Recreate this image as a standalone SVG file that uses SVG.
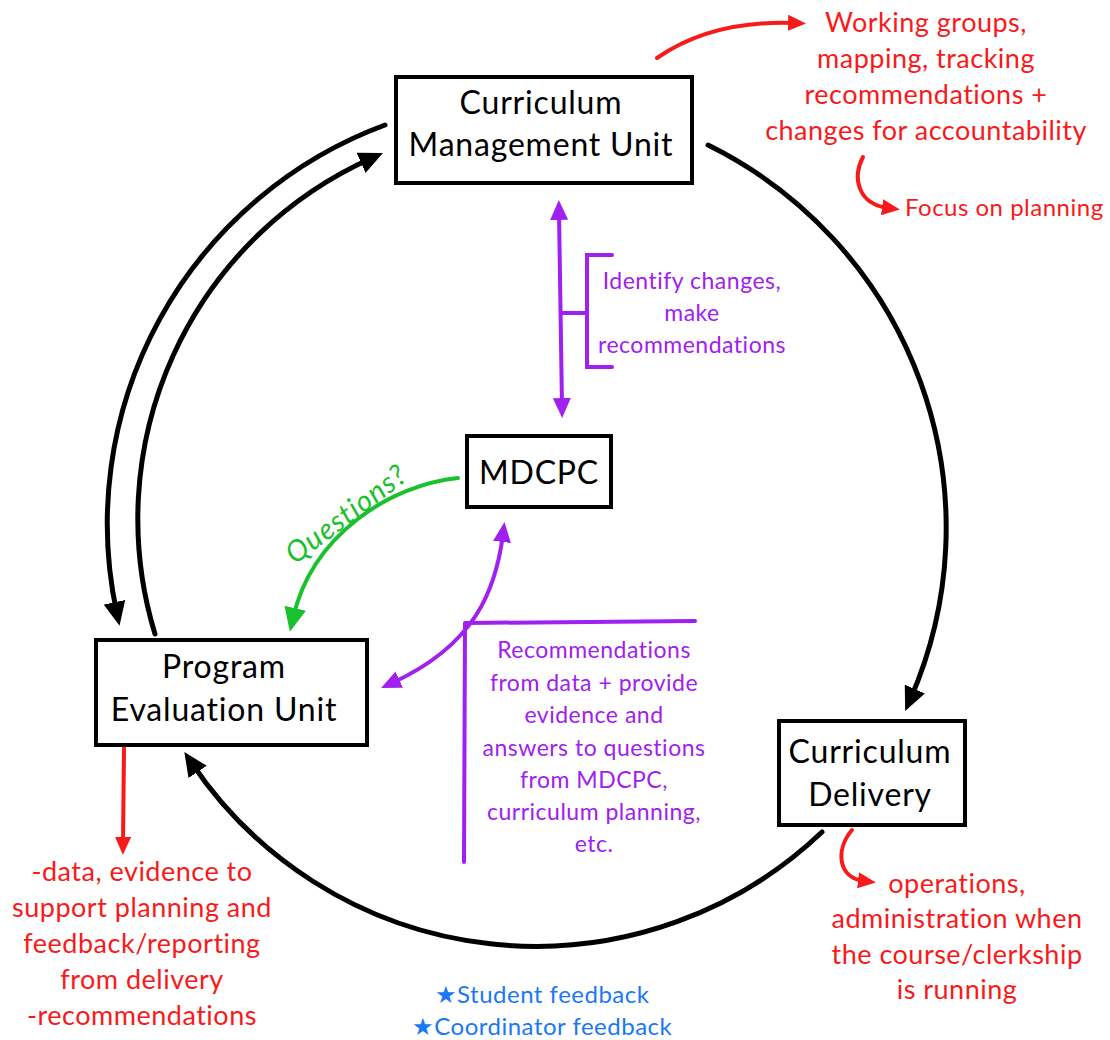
<svg xmlns="http://www.w3.org/2000/svg" width="1110" height="1040" viewBox="0 0 1110 1040">
<defs>
<style>
text{font-family:Lato,"Open Sans","Liberation Sans",sans-serif;text-anchor:middle}
.node rect{fill:#fff;stroke:#000;stroke-width:4}
.node text{font-size:32px;fill:#000;letter-spacing:0.8px}
.blk{fill:none;stroke:#000;stroke-width:5;stroke-linecap:round}
.pur{fill:none;stroke:#a020f0;stroke-width:4;stroke-linecap:round}
.red{fill:none;stroke:#f81a1a;stroke-width:4;stroke-linecap:round}
.grn{fill:none;stroke:#19c22c;stroke-width:4;stroke-linecap:round}
.tr{fill:#f81a1a;font-size:27px;letter-spacing:0.5px}
.tp{fill:#a020f0;font-size:23px;letter-spacing:0.5px}
.tb{fill:#1a78f5;font-size:24px;letter-spacing:0.5px}
.tg{fill:#19c22c;font-size:29px;font-style:italic;letter-spacing:1px}
</style>
<marker id="ab" markerUnits="userSpaceOnUse" viewBox="0 0 24 22" markerWidth="24" markerHeight="22" refX="12" refY="11" orient="auto"><path d="M0,0 L24,11 L0,22 z" fill="#000"/></marker>
<marker id="ap" markerUnits="userSpaceOnUse" viewBox="0 0 20 18" markerWidth="20" markerHeight="18" refX="8" refY="9" orient="auto-start-reverse"><path d="M0,0 L20,9 L0,18 z" fill="#a020f0"/></marker>
<marker id="ar" markerUnits="userSpaceOnUse" viewBox="0 0 18 16" markerWidth="18" markerHeight="16" refX="6" refY="8" orient="auto"><path d="M0,0 L18,8 L0,16 z" fill="#f81a1a"/></marker>
<marker id="ag" markerUnits="userSpaceOnUse" viewBox="0 0 24 22" markerWidth="24" markerHeight="22" refX="10" refY="11" orient="auto"><path d="M0,0 L24,11 L0,22 z" fill="#19c22c"/></marker>
</defs>
<rect width="1110" height="1040" fill="#fff"/>

<g id="connectors">
<path class="blk" d="M708,145 A427,427 0 0 1 910,700" marker-end="url(#ab)"/>
<path class="blk" d="M822,832 A415,415 0 0 1 191,762" marker-end="url(#ab)"/>
<path class="blk" d="M385,125 A425,425 0 0 0 117,614" marker-end="url(#ab)"/>
<path class="blk" d="M155,634 A395,395 0 0 1 372,158" marker-end="url(#ab)"/>
<path class="pur" d="M559,212 L562,406" marker-start="url(#ap)" marker-end="url(#ap)"/>
<path class="pur" d="M612,255 L587,255 L587,367 L612,367 M561,313 L587,313"/>
<path class="pur" d="M503,534 C496,590 475,645 392,683" marker-start="url(#ap)" marker-end="url(#ap)"/>
<path class="pur" d="M465,623 L695,621 M465,623 L464,862"/>
<path class="grn" d="M458,478 C390,485 312,535 293,618" marker-end="url(#ag)"/>
<path class="red" d="M657,58 Q712,20 794,23" marker-end="url(#ar)"/>
<path class="red" d="M863,157 C852,178 858,204 888,208" marker-end="url(#ar)"/>
<path class="red" d="M124,748 L123,843" marker-end="url(#ar)"/>
<path class="red" d="M852,830 C835,850 838,878 864,881" marker-end="url(#ar)"/>
</g>

<g id="cmu" class="node">
<rect x="396" y="77" width="296" height="106"/>
<text x="541" y="114">Curriculum</text>
<text x="541" y="156">Management Unit</text>
</g>
<g id="mdcpc" class="node">
<rect x="467" y="436" width="144" height="71"/>
<text x="539" y="484">MDCPC</text>
</g>
<g id="peu" class="node">
<rect x="96" y="640" width="271" height="105"/>
<text x="224" y="678">Program</text>
<text x="224" y="721">Evaluation Unit</text>
</g>
<g id="cd" class="node">
<rect x="779" y="721" width="186" height="104"/>
<text x="870" y="763">Curriculum</text>
<text x="870" y="806">Delivery</text>
</g>

<g id="labels">
<text class="tr" x="926" y="32">Working groups,</text>
<text class="tr" x="926" y="68">mapping, tracking</text>
<text class="tr" x="926" y="104">recommendations +</text>
<text class="tr" x="926" y="140">changes for accountability</text>
<text class="tr" x="905" y="216" style="text-anchor:start;font-size:24px">Focus on planning</text>
<text class="tp" x="692" y="289">Identify changes,</text>
<text class="tp" x="692" y="321">make</text>
<text class="tp" x="692" y="353">recommendations</text>
<text class="tg" transform="translate(352,522) rotate(-37)">Questions?</text>
<text class="tp" x="594" y="658">Recommendations</text>
<text class="tp" x="594" y="691">from data + provide</text>
<text class="tp" x="594" y="723">evidence and</text>
<text class="tp" x="594" y="756">answers to questions</text>
<text class="tp" x="594" y="788">from MDCPC,</text>
<text class="tp" x="594" y="820">curriculum planning,</text>
<text class="tp" x="594" y="852">etc.</text>
<text class="tr" x="142" y="881">-data, evidence to</text>
<text class="tr" x="142" y="917">support planning and</text>
<text class="tr" x="142" y="953">feedback/reporting</text>
<text class="tr" x="142" y="989">from delivery</text>
<text class="tr" x="142" y="1025">-recommendations</text>
<text class="tr" x="957" y="893">operations,</text>
<text class="tr" x="957" y="928">administration when</text>
<text class="tr" x="957" y="964">the course/clerkship</text>
<text class="tr" x="957" y="999">is running</text>
<text class="tb" x="542" y="1003">★Student feedback</text>
<text class="tb" x="542" y="1035">★Coordinator feedback</text>
</g>
</svg>
